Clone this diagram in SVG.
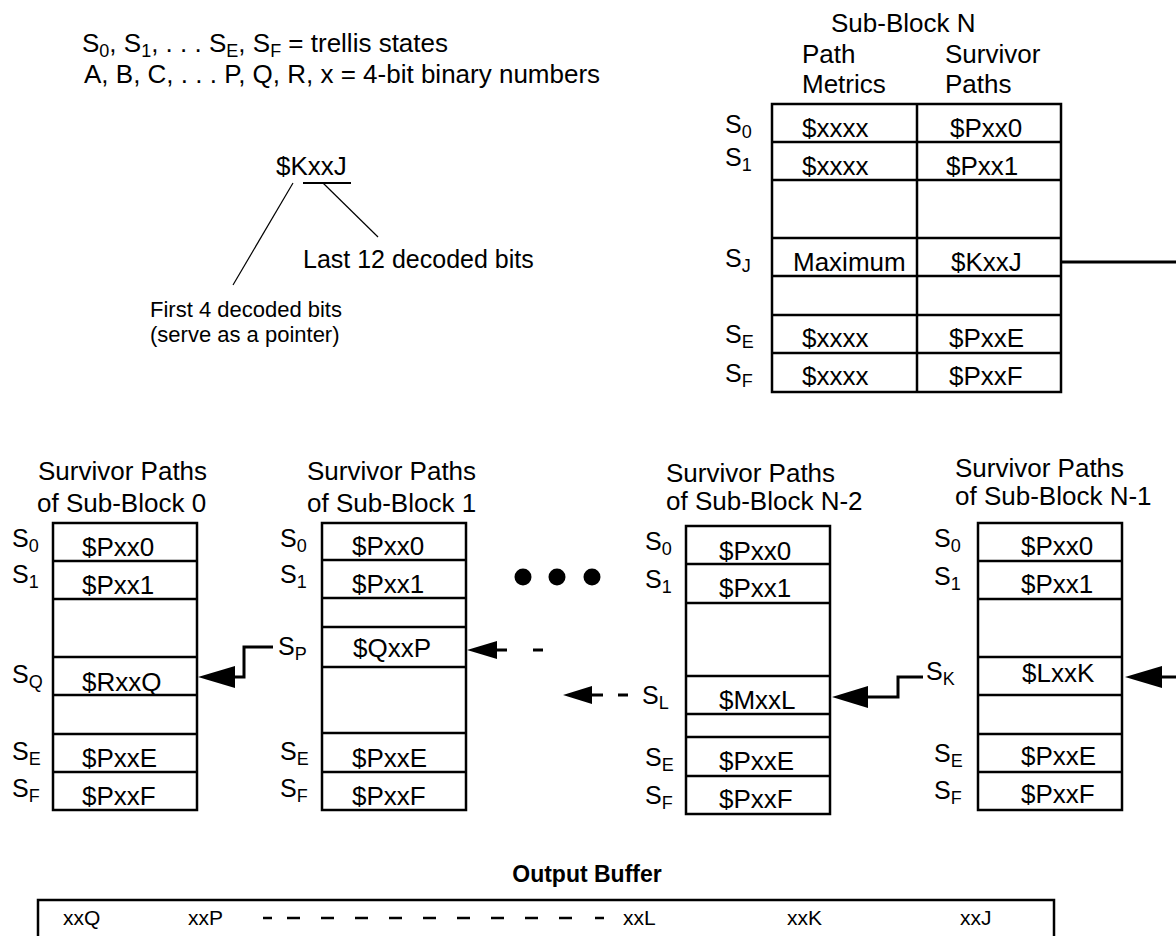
<svg xmlns="http://www.w3.org/2000/svg" width="1176" height="936" viewBox="0 0 1176 936">
<style>
text{font-family:"Liberation Sans",Arial,sans-serif;fill:#000}
.t{font-size:26px}
.lb{font-size:25px}
.sb{font-size:18px}
.sm{font-size:22px}
.tb{fill:none;stroke:#000;stroke-width:2.5}
.cn{fill:none;stroke:#000;stroke-width:3}
.thin{fill:none;stroke:#000;stroke-width:1.2}
.ah{fill:#000}
.buf{font-size:21px}
.ob{font-size:23px;font-weight:bold}
</style>
<rect width="1176" height="936" fill="#fff"/>

<g id="legend">
<text class="t" x="82" y="52">S<tspan class="sb" dy="5">0</tspan><tspan dy="-5">, S</tspan><tspan class="sb" dy="5">1</tspan><tspan dy="-5">, . . . S</tspan><tspan class="sb" dy="5">E</tspan><tspan dy="-5">, S</tspan><tspan class="sb" dy="5">F</tspan><tspan dy="-5"> = trellis states</tspan></text>
<text class="t" x="84" y="83">A, B, C, . . . P, Q, R, x = 4-bit binary numbers</text>
</g>

<g id="annotation">
<text class="t" x="276" y="175">$KxxJ</text>
<line x1="303" y1="183" x2="351" y2="183" stroke="#000" stroke-width="2"/>
<line class="thin" x1="323" y1="183" x2="378" y2="237"/>
<line class="thin" x1="293" y1="183" x2="233" y2="285"/>
<text class="lb" x="303" y="268">Last 12 decoded bits</text>
<text class="sm" x="150" y="317">First 4 decoded bits</text>
<text class="sm" x="150" y="342">(serve as a pointer)</text>
</g>

<g id="subblockN">
<text class="t" x="831" y="32">Sub-Block N</text>
<text class="t" x="802" y="63">Path</text>
<text class="t" x="802" y="93">Metrics</text>
<text class="t" x="945" y="63">Survivor</text>
<text class="t" x="945" y="93">Paths</text>
<rect class="tb" x="772" y="104" width="289" height="288"/>
<path class="tb" d="M772 142H1061M772 180H1061M772 238H1061M772 276H1061M772 315H1061M772 353H1061M917 104V392"/>
<text class="lb" x="725" y="133">S<tspan class="sb" dy="5">0</tspan></text>
<text class="lb" x="725" y="166">S<tspan class="sb" dy="5">1</tspan></text>
<text class="lb" x="725" y="267">S<tspan class="sb" dy="5">J</tspan></text>
<text class="lb" x="725" y="343">S<tspan class="sb" dy="5">E</tspan></text>
<text class="lb" x="725" y="382">S<tspan class="sb" dy="5">F</tspan></text>
<text class="t" x="802" y="137">$xxxx</text>
<text class="t" x="802" y="175">$xxxx</text>
<text class="t" x="793" y="271">Maximum</text>
<text class="t" x="802" y="347">$xxxx</text>
<text class="t" x="802" y="385">$xxxx</text>
<text class="t" x="950" y="137">$Pxx0</text>
<text class="t" x="946" y="175">$Pxx1</text>
<text class="t" x="951" y="271">$KxxJ</text>
<text class="t" x="949" y="347">$PxxE</text>
<text class="t" x="949" y="385">$PxxF</text>
</g>

<g id="sb0">
<text class="t" x="38" y="480">Survivor Paths</text>
<text class="t" x="37" y="512">of Sub-Block 0</text>
<rect class="tb" x="53" y="523" width="144" height="287"/>
<path class="tb" d="M53 561H197M53 599H197M53 657H197M53 695H197M53 734H197M53 772H197"/>
<text class="lb" x="12" y="547">S<tspan class="sb" dy="5">0</tspan></text>
<text class="lb" x="12" y="583">S<tspan class="sb" dy="5">1</tspan></text>
<text class="lb" x="12" y="683">S<tspan class="sb" dy="5">Q</tspan></text>
<text class="lb" x="12" y="760">S<tspan class="sb" dy="5">E</tspan></text>
<text class="lb" x="12" y="797">S<tspan class="sb" dy="5">F</tspan></text>
<text class="t" x="82" y="556">$Pxx0</text>
<text class="t" x="82" y="594">$Pxx1</text>
<text class="t" x="82" y="691">$RxxQ</text>
<text class="t" x="82" y="767">$PxxE</text>
<text class="t" x="82" y="805">$PxxF</text>
</g>

<g id="sb1">
<text class="t" x="307" y="480">Survivor Paths</text>
<text class="t" x="307" y="512">of Sub-Block 1</text>
<rect class="tb" x="322" y="523" width="144" height="287"/>
<path class="tb" d="M322 560H466M322 598H466M322 627H466M322 667H466M322 733H466M322 772H466"/>
<text class="lb" x="280" y="547">S<tspan class="sb" dy="5">0</tspan></text>
<text class="lb" x="280" y="583">S<tspan class="sb" dy="5">1</tspan></text>
<text class="lb" x="278" y="655">S<tspan class="sb" dy="5">P</tspan></text>
<text class="lb" x="280" y="760">S<tspan class="sb" dy="5">E</tspan></text>
<text class="lb" x="280" y="797">S<tspan class="sb" dy="5">F</tspan></text>
<text class="t" x="352" y="555">$Pxx0</text>
<text class="t" x="352" y="593">$Pxx1</text>
<text class="t" x="353" y="657">$QxxP</text>
<text class="t" x="352" y="767">$PxxE</text>
<text class="t" x="352" y="805">$PxxF</text>
</g>

<g id="ellipsis">
<circle cx="523" cy="577" r="8.5"/>
<circle cx="557" cy="577" r="8.5"/>
<circle cx="592" cy="577" r="8.5"/>
</g>

<g id="sbN2">
<text class="t" x="666" y="482">Survivor Paths</text>
<text class="t" x="666" y="510">of Sub-Block N-2</text>
<rect class="tb" x="686" y="526" width="144" height="288"/>
<path class="tb" d="M686 564H830M686 603H830M686 676H830M686 714H830M686 737H830M686 776H830"/>
<text class="lb" x="645" y="550">S<tspan class="sb" dy="5">0</tspan></text>
<text class="lb" x="645" y="588">S<tspan class="sb" dy="5">1</tspan></text>
<text class="lb" x="642" y="704">S<tspan class="sb" dy="5">L</tspan></text>
<text class="lb" x="645" y="766">S<tspan class="sb" dy="5">E</tspan></text>
<text class="lb" x="645" y="804">S<tspan class="sb" dy="5">F</tspan></text>
<text class="t" x="719" y="560">$Pxx0</text>
<text class="t" x="719" y="597">$Pxx1</text>
<text class="t" x="719" y="709">$MxxL</text>
<text class="t" x="719" y="770">$PxxE</text>
<text class="t" x="719" y="808">$PxxF</text>
</g>

<g id="sbN1">
<text class="t" x="955" y="477">Survivor Paths</text>
<text class="t" x="955" y="505">of Sub-Block N-1</text>
<rect class="tb" x="978" y="523" width="144" height="287"/>
<path class="tb" d="M978 561H1122M978 599H1122M978 657H1122M978 695H1122M978 734H1122M978 772H1122"/>
<text class="lb" x="934" y="547">S<tspan class="sb" dy="5">0</tspan></text>
<text class="lb" x="934" y="585">S<tspan class="sb" dy="5">1</tspan></text>
<text class="lb" x="926" y="680">S<tspan class="sb" dy="5">K</tspan></text>
<text class="lb" x="934" y="762">S<tspan class="sb" dy="5">E</tspan></text>
<text class="lb" x="934" y="799">S<tspan class="sb" dy="5">F</tspan></text>
<text class="t" x="1021" y="555">$Pxx0</text>
<text class="t" x="1021" y="593">$Pxx1</text>
<text class="t" x="1022" y="682">$LxxK</text>
<text class="t" x="1021" y="765">$PxxE</text>
<text class="t" x="1021" y="803">$PxxF</text>
</g>

<g id="connectors">
<path class="cn" d="M1061 262H1176"/>
<path class="cn" d="M1176 677H1158"/>
<polygon class="ah" points="1125,677 1162,666 1162,688"/>
<path class="cn" d="M923 677H898V697H864"/>
<polygon class="ah" points="832,697 868,686 868,708"/>
<path class="cn" d="M628 695H618M603 695H586"/>
<polygon class="ah" points="563,695 592,686 592,704"/>
<path class="cn" d="M543 650H533M507 650H492"/>
<polygon class="ah" points="467,650 497,641 497,659"/>
<path class="cn" d="M273 647H244V677H231"/>
<polygon class="ah" points="198,677 235,666 235,688"/>
</g>

<g id="outputBuffer">
<text class="ob" x="587" y="882" text-anchor="middle">Output Buffer</text>
<rect class="tb" x="38" y="900" width="1016" height="60"/>
<text class="buf" x="63" y="925">xxQ</text>
<text class="buf" x="188" y="925">xxP</text>
<path class="tb" d="M263 918h9M287 918h13M321 918h13M355 918h13M389 918h13M423 918h13M457 918h13M491 918h13M525 918h13M559 918h13M595 918h9"/>
<text class="buf" x="623" y="925">xxL</text>
<text class="buf" x="787" y="925">xxK</text>
<text class="buf" x="960" y="925">xxJ</text>
</g>
</svg>
